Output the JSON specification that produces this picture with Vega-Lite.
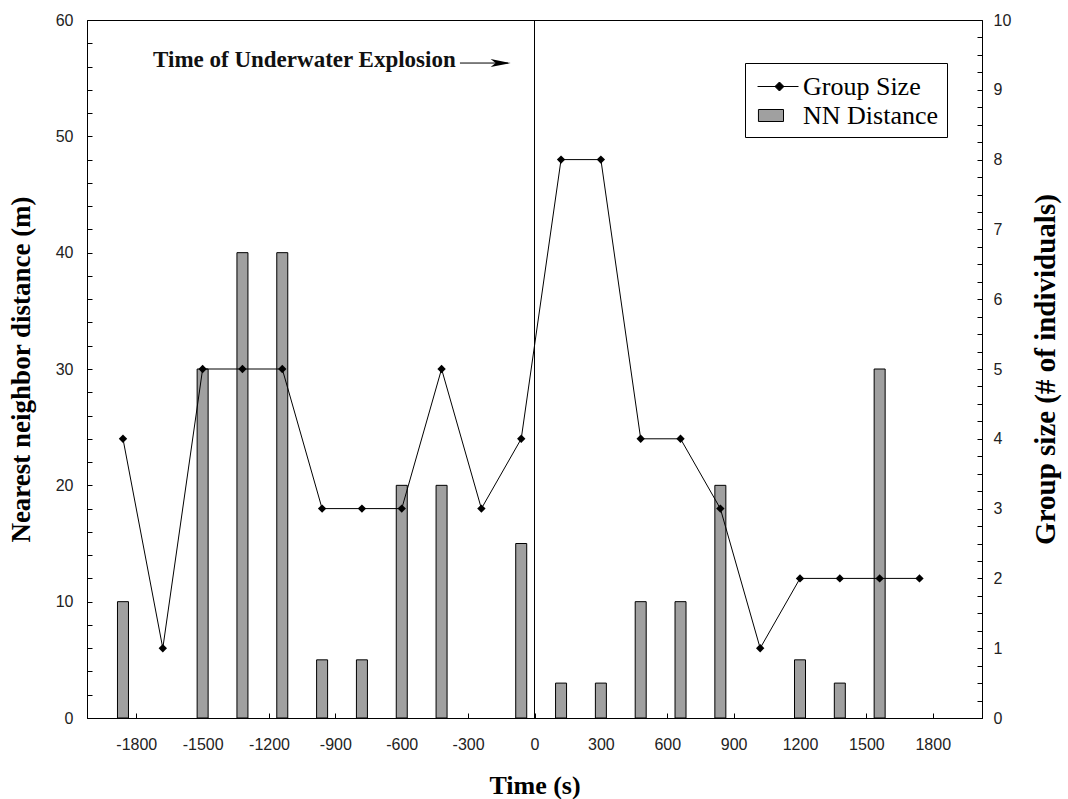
{
  "$schema": "https://vega.github.io/schema/vega-lite/v6.json",
  "width": 895,
  "height": 698,
  "autosize": {"type": "none"},
  "padding": {"left": 87, "top": 20, "right": 86, "bottom": 81},
  "background": "white",
  "data": {
    "values": [
      {"t": -1860, "nn": 10, "gs": 4},
      {"t": -1680, "nn": null, "gs": 1},
      {"t": -1500, "nn": 30, "gs": 5},
      {"t": -1320, "nn": 40, "gs": 5},
      {"t": -1140, "nn": 40, "gs": 5},
      {"t": -960, "nn": 5, "gs": 3},
      {"t": -780, "nn": 5, "gs": 3},
      {"t": -600, "nn": 20, "gs": 3},
      {"t": -420, "nn": 20, "gs": 5},
      {"t": -240, "nn": null, "gs": 3},
      {"t": -60, "nn": 15, "gs": 4},
      {"t": 120, "nn": 3, "gs": 8},
      {"t": 300, "nn": 3, "gs": 8},
      {"t": 480, "nn": 10, "gs": 4},
      {"t": 660, "nn": 10, "gs": 4},
      {"t": 840, "nn": 20, "gs": 3},
      {"t": 1020, "nn": null, "gs": 1},
      {"t": 1200, "nn": 5, "gs": 2},
      {"t": 1380, "nn": 3, "gs": 2},
      {"t": 1560, "nn": 30, "gs": 2},
      {"t": 1740, "nn": null, "gs": 2}
    ]
  },
  "layer": [
    {
      "layer": [
        {
          "mark": {"type": "bar", "size": 11, "fill": "#a0a0a0", "stroke": "black", "strokeWidth": 1},
          "encoding": {
            "x": {
              "field": "t", "type": "quantitative",
              "scale": {"domain": [-2000, 2000], "nice": false, "zero": false},
              "axis": {
                "title": "Time (s)",
                "values": [-1800, -1500, -1200, -900, -600, -300, 0, 300, 600, 900, 1200, 1500, 1800],
                "labelExpr": "'' + datum.value",
                "tickSize": -5, "labelPadding": 23, "titlePadding": 20
              }
            },
            "y": {
              "field": "nn", "type": "quantitative",
              "scale": {"domain": [0, 60], "nice": false},
              "axis": {
                "title": "Nearest neighbor distance (m)",
                "titleFontSize": 27,
                "orient": "left",
                "values": [0, 2, 4, 6, 8, 10, 12, 14, 16, 18, 20, 22, 24, 26, 28, 30, 32, 34, 36, 38, 40, 42, 44, 46, 48, 50, 52, 54, 56, 58, 60],
                "labelExpr": "datum.value % 10 === 0 ? '' + datum.value : ''",
                "tickSize": -5, "labelPadding": 19, "titlePadding": 20
              }
            }
          }
        },
        {
          "mark": {"type": "point", "opacity": 0, "size": 10, "filled": true},
          "encoding": {
            "x": {
              "field": "t", "type": "quantitative",
              "scale": {"domain": [-2000, 2000], "nice": false, "zero": false},
              "axis": {
                "title": "Time (s)",
                "values": [-1800, -1500, -1200, -900, -600, -300, 0, 300, 600, 900, 1200, 1500, 1800],
                "labelExpr": "'' + datum.value",
                "tickSize": -5, "labelPadding": 23, "titlePadding": 20
              }
            },
            "y": {
              "field": "nn", "type": "quantitative",
              "scale": {"domain": [0, 60], "nice": false},
              "axis": {
                "title": "Nearest neighbor distance (m)",
                "titleFontSize": 27,
                "orient": "left",
                "values": [0, 2, 4, 6, 8, 10, 12, 14, 16, 18, 20, 22, 24, 26, 28, 30, 32, 34, 36, 38, 40, 42, 44, 46, 48, 50, 52, 54, 56, 58, 60],
                "labelExpr": "datum.value % 10 === 0 ? '' + datum.value : ''",
                "tickSize": -5, "labelPadding": 19, "titlePadding": 20
              }
            },
            "shape": {
              "datum": "NN Distance", "type": "nominal",
              "scale": {"domain": ["Group Size", "NN Distance"], "range": ["M-0.73,0L2,0M0.73,-0.3L1.03,0L0.73,0.3L0.43,0Z", "M-0.67,-0.4L1,-0.4L1,0.4L-0.67,0.4Z"]},
              "legend": {
                "title": null, "orient": "none", "legendX": 658, "legendY": 43,
                "strokeColor": "black", "fillColor": "white", "padding": 8,
                "labelFont": "Liberation Serif", "labelFontSize": 26, "labelColor": "black",
                "labelOffset": 19, "rowPadding": 0, "symbolSize": 900, "symbolOpacity": 1,
                "symbolStrokeWidth": 1
              }
            },
            "fill": {
              "datum": "NN Distance", "type": "nominal",
              "scale": {"domain": ["Group Size", "NN Distance"], "range": ["black", "#a0a0a0"]},
              "legend": {
                "title": null, "orient": "none", "legendX": 658, "legendY": 43,
                "strokeColor": "black", "fillColor": "white", "padding": 8,
                "labelFont": "Liberation Serif", "labelFontSize": 26, "labelColor": "black",
                "labelOffset": 19, "rowPadding": 0, "symbolSize": 900, "symbolOpacity": 1,
                "symbolStrokeWidth": 1
              }
            },
            "stroke": {
              "datum": "NN Distance", "type": "nominal",
              "scale": {"domain": ["Group Size", "NN Distance"], "range": ["black", "black"]},
              "legend": {
                "title": null, "orient": "none", "legendX": 658, "legendY": 43,
                "strokeColor": "black", "fillColor": "white", "padding": 8,
                "labelFont": "Liberation Serif", "labelFontSize": 26, "labelColor": "black",
                "labelOffset": 19, "rowPadding": 0, "symbolSize": 900, "symbolOpacity": 1,
                "symbolStrokeWidth": 1
              }
            }
          }
        },
        {
          "data": {"values": [{}]},
          "mark": {"type": "rule", "color": "black", "strokeWidth": 1},
          "encoding": {"x": {"datum": 0, "type": "quantitative"}}
        },
        {
          "data": {"values": [{}]},
          "mark": {"type": "text", "text": "Time of Underwater Explosion", "font": "Liberation Serif", "fontWeight": "bold", "fontSize": 23, "align": "left", "baseline": "alphabetic", "color": "#111"},
          "encoding": {
            "x": {"datum": -1724, "type": "quantitative"},
            "y": {
              "datum": 55.96, "type": "quantitative",
              "axis": {
                "title": "Nearest neighbor distance (m)",
                "titleFontSize": 27,
                "orient": "left",
                "values": [0, 2, 4, 6, 8, 10, 12, 14, 16, 18, 20, 22, 24, 26, 28, 30, 32, 34, 36, 38, 40, 42, 44, 46, 48, 50, 52, 54, 56, 58, 60],
                "labelExpr": "datum.value % 10 === 0 ? '' + datum.value : ''",
                "tickSize": -5, "labelPadding": 19, "titlePadding": 20
              }
            }
          }
        },
        {
          "data": {"values": [{}]},
          "mark": {"type": "rule", "color": "black", "strokeWidth": 1},
          "encoding": {
            "x": {"datum": -337, "type": "quantitative"},
            "x2": {"datum": -120},
            "y": {
              "datum": 56.3, "type": "quantitative",
              "axis": {
                "title": "Nearest neighbor distance (m)",
                "titleFontSize": 27,
                "orient": "left",
                "values": [0, 2, 4, 6, 8, 10, 12, 14, 16, 18, 20, 22, 24, 26, 28, 30, 32, 34, 36, 38, 40, 42, 44, 46, 48, 50, 52, 54, 56, 58, 60],
                "labelExpr": "datum.value % 10 === 0 ? '' + datum.value : ''",
                "tickSize": -5, "labelPadding": 19, "titlePadding": 20
              }
            }
          }
        },
        {
          "data": {"values": [{}]},
          "mark": {"type": "point", "shape": "M-1,-0.4L1,0L-1,0.4L-0.5,0Z", "filled": true, "color": "black", "size": 400, "opacity": 1},
          "encoding": {
            "x": {"datum": -153, "type": "quantitative"},
            "y": {
              "datum": 56.3, "type": "quantitative",
              "axis": {
                "title": "Nearest neighbor distance (m)",
                "titleFontSize": 27,
                "orient": "left",
                "values": [0, 2, 4, 6, 8, 10, 12, 14, 16, 18, 20, 22, 24, 26, 28, 30, 32, 34, 36, 38, 40, 42, 44, 46, 48, 50, 52, 54, 56, 58, 60],
                "labelExpr": "datum.value % 10 === 0 ? '' + datum.value : ''",
                "tickSize": -5, "labelPadding": 19, "titlePadding": 20
              }
            }
          }
        }
      ]
    },
    {
      "mark": {
        "type": "line", "color": "black", "strokeWidth": 1,
        "point": {"shape": "diamond", "filled": true, "size": 70, "color": "black", "opacity": 1}
      },
      "encoding": {
        "x": {
          "field": "t", "type": "quantitative",
          "scale": {"domain": [-2000, 2000], "nice": false, "zero": false},
          "axis": {
            "title": "Time (s)",
            "values": [-1800, -1500, -1200, -900, -600, -300, 0, 300, 600, 900, 1200, 1500, 1800],
            "labelExpr": "'' + datum.value",
            "tickSize": -5, "labelPadding": 23, "titlePadding": 20
          }
        },
        "y": {
          "field": "gs", "type": "quantitative",
          "scale": {"domain": [0, 10], "nice": false},
          "axis": {
            "title": "Group size (# of individuals)",
            "titleFontSize": 29,
            "orient": "right",
            "titleAngle": 270,
            "values": [0, 0.25, 0.5, 0.75, 1, 1.25, 1.5, 1.75, 2, 2.25, 2.5, 2.75, 3, 3.25, 3.5, 3.75, 4, 4.25, 4.5, 4.75, 5, 5.25, 5.5, 5.75, 6, 6.25, 6.5, 6.75, 7, 7.25, 7.5, 7.75, 8, 8.25, 8.5, 8.75, 9, 9.25, 9.5, 9.75, 10],
            "labelExpr": "datum.value % 1 === 0 ? '' + datum.value : ''",
            "tickSize": -5, "labelPadding": 16, "titlePadding": 50
          }
        }
      }
    }
  ],
  "resolve": {"scale": {"y": "independent"}},
  "config": {
    "view": {"stroke": "black", "strokeWidth": 1},
    "axis": {
      "grid": false,
      "domainColor": "black",
      "domainWidth": 1,
      "tickColor": "black",
      "labelFont": "Liberation Sans",
      "labelFontSize": 16,
      "labelColor": "#222",
      "labelOverlap": false,
      "titleFont": "Liberation Serif",
      "titleFontWeight": "bold",
      "titleFontSize": 26,
      "titleColor": "black"
    }
  }
}
